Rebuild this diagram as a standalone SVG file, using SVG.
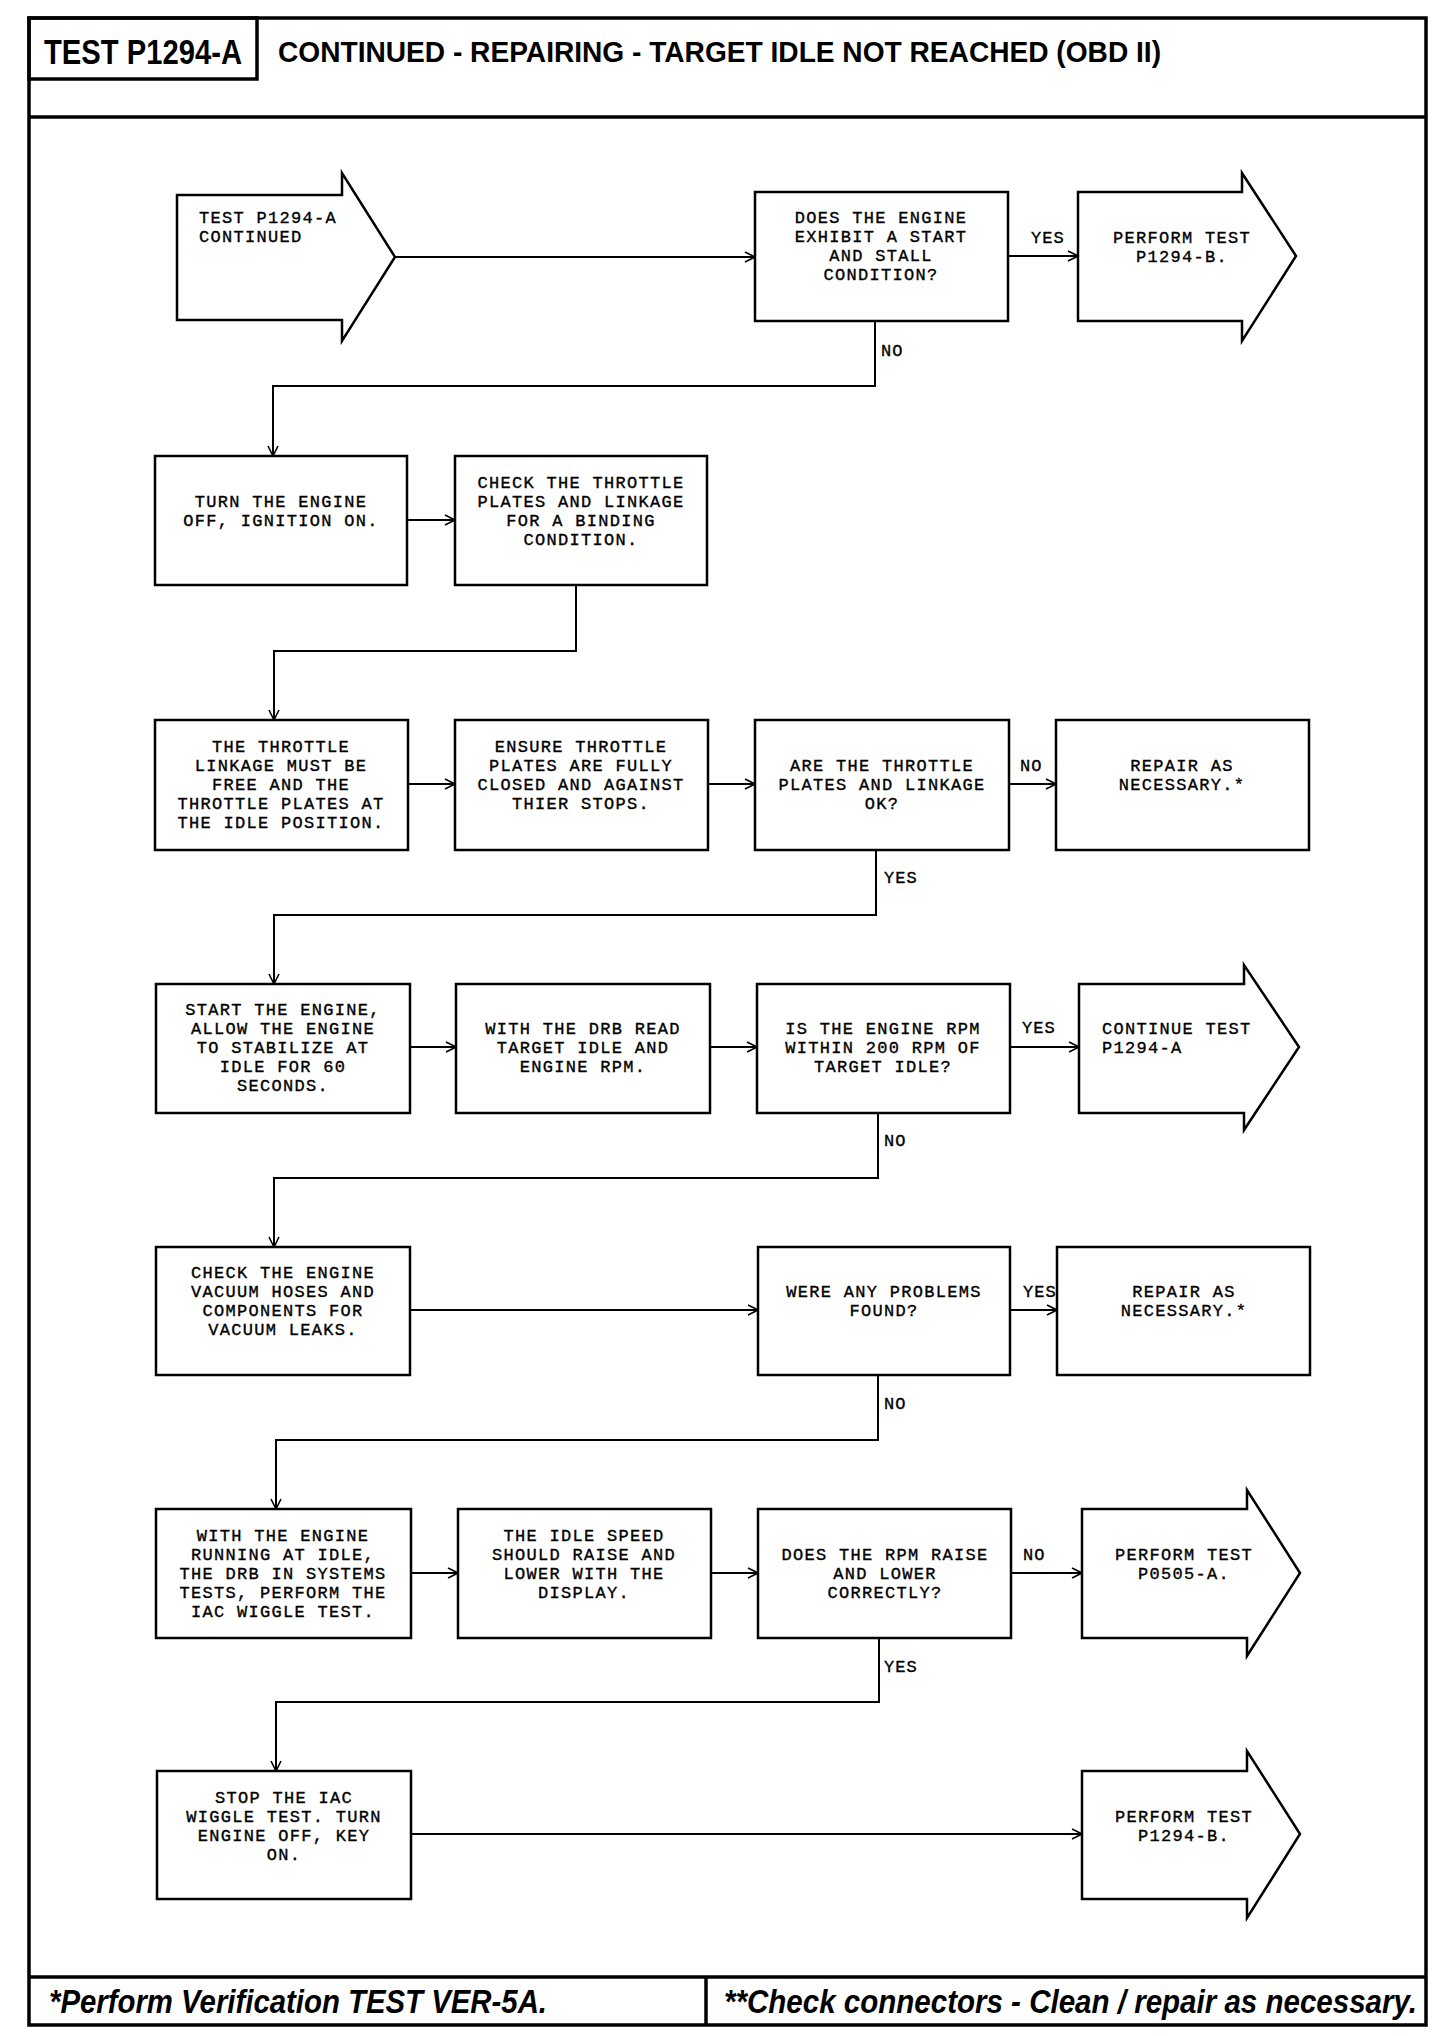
<svg xmlns="http://www.w3.org/2000/svg" width="1456" height="2036" viewBox="0 0 1456 2036">
<style>
.frame{fill:none;stroke:#000;stroke-width:3.5}
.box{fill:#fff;stroke:#000;stroke-width:2.5}
.t{font-family:"Liberation Mono","Courier New",monospace;font-size:17px;letter-spacing:1.3px;fill:#000;text-anchor:middle;stroke:#000;stroke-width:0.35}
.tl{font-family:"Liberation Mono","Courier New",monospace;font-size:17px;letter-spacing:1.3px;fill:#000;stroke:#000;stroke-width:0.35}
.lbl{font-family:"Liberation Mono","Courier New",monospace;font-size:17px;letter-spacing:1px;fill:#000;stroke:#000;stroke-width:0.35}
.c{fill:none;stroke:#000;stroke-width:2}
.h{font-family:"Liberation Sans",Arial,sans-serif;font-weight:bold;fill:#000}
.f{font-family:"Liberation Sans",Arial,sans-serif;font-weight:bold;font-style:italic;fill:#000}
</style>
<defs>
<marker id="ah" markerWidth="12" markerHeight="12" refX="11" refY="6" orient="auto" markerUnits="userSpaceOnUse">
<path d="M1,1 L11,6 L1,11" fill="none" stroke="#000" stroke-width="1.6"/>
</marker>
</defs>
<rect width="1456" height="2036" fill="#fff"/>
<g id="frame">
<rect class="frame" x="29" y="18" width="1397" height="2007"/>
<rect class="frame" x="29" y="18" width="228" height="61"/>
<line class="frame" x1="29" y1="117" x2="1426" y2="117"/>
<line class="frame" x1="29" y1="1977" x2="1426" y2="1977"/>
<line class="frame" x1="706" y1="1977" x2="706" y2="2025"/>
<text class="h" x="44" y="64" font-size="35" textLength="198" lengthAdjust="spacingAndGlyphs">TEST P1294-A</text>
<text class="h" x="278" y="62" font-size="29" textLength="883" lengthAdjust="spacingAndGlyphs">CONTINUED - REPAIRING - TARGET IDLE NOT REACHED (OBD II)</text>
<text class="f" x="49" y="2013" font-size="33" textLength="498" lengthAdjust="spacingAndGlyphs">*Perform Verification TEST VER-5A.</text>
<text class="f" x="724" y="2013" font-size="33" textLength="693" lengthAdjust="spacingAndGlyphs">**Check connectors - Clean / repair as necessary.</text>
</g>
<g id="connectors">
<line class="c" x1="395" y1="257" x2="755" y2="257" marker-end="url(#ah)"/>
<line class="c" x1="1008" y1="256" x2="1078" y2="256" marker-end="url(#ah)"/>
<polyline class="c" points="875,321 875,386 273,386 273,456" marker-end="url(#ah)"/>
<line class="c" x1="407" y1="520" x2="455" y2="520" marker-end="url(#ah)"/>
<polyline class="c" points="576,585 576,651 274,651 274,720" marker-end="url(#ah)"/>
<line class="c" x1="408" y1="784" x2="455" y2="784" marker-end="url(#ah)"/>
<line class="c" x1="708" y1="784" x2="755" y2="784" marker-end="url(#ah)"/>
<line class="c" x1="1009" y1="784" x2="1056" y2="784" marker-end="url(#ah)"/>
<polyline class="c" points="876,850 876,915 274,915 274,984" marker-end="url(#ah)"/>
<line class="c" x1="410" y1="1047" x2="456" y2="1047" marker-end="url(#ah)"/>
<line class="c" x1="710" y1="1047" x2="757" y2="1047" marker-end="url(#ah)"/>
<line class="c" x1="1010" y1="1047" x2="1079" y2="1047" marker-end="url(#ah)"/>
<polyline class="c" points="878,1113 878,1178 274,1178 274,1247" marker-end="url(#ah)"/>
<line class="c" x1="410" y1="1310" x2="758" y2="1310" marker-end="url(#ah)"/>
<line class="c" x1="1010" y1="1310" x2="1057" y2="1310" marker-end="url(#ah)"/>
<polyline class="c" points="878,1375 878,1440 276,1440 276,1509" marker-end="url(#ah)"/>
<line class="c" x1="411" y1="1573" x2="458" y2="1573" marker-end="url(#ah)"/>
<line class="c" x1="711" y1="1573" x2="758" y2="1573" marker-end="url(#ah)"/>
<line class="c" x1="1011" y1="1573" x2="1082" y2="1573" marker-end="url(#ah)"/>
<polyline class="c" points="879,1638 879,1702 276,1702 276,1771" marker-end="url(#ah)"/>
<line class="c" x1="411" y1="1834" x2="1082" y2="1834" marker-end="url(#ah)"/>
<text class="lbl" x="1031" y="243">YES</text>
<text class="lbl" x="881" y="356">NO</text>
<text class="lbl" x="1020" y="771">NO</text>
<text class="lbl" x="884" y="883">YES</text>
<text class="lbl" x="1022" y="1033">YES</text>
<text class="lbl" x="884" y="1146">NO</text>
<text class="lbl" x="1023" y="1297">YES</text>
<text class="lbl" x="884" y="1409">NO</text>
<text class="lbl" x="1023" y="1560">NO</text>
<text class="lbl" x="884" y="1672">YES</text>
</g>
<g id="start">
<polygon class="box" points="177,195 342,195 342,173 395,257 342,341 342,320 177,320"/>
<text class="tl" x="199" y="223">TEST P1294-A</text>
<text class="tl" x="199" y="242">CONTINUED</text>
</g>
<g id="q1">
<rect class="box" x="755" y="192" width="253" height="129"/>
<text class="t" x="881" y="223">DOES THE ENGINE</text>
<text class="t" x="881" y="242">EXHIBIT A START</text>
<text class="t" x="881" y="261">AND STALL</text>
<text class="t" x="881" y="280">CONDITION?</text>
</g>
<g id="p1294b-1">
<polygon class="box" points="1078,192 1242,192 1242,173 1296,256 1242,341 1242,321 1078,321"/>
<text class="t" x="1182" y="243">PERFORM TEST</text>
<text class="t" x="1182" y="262">P1294-B.</text>
</g>
<g id="s1">
<rect class="box" x="155" y="456" width="252" height="129"/>
<text class="t" x="281" y="507">TURN THE ENGINE</text>
<text class="t" x="281" y="526">OFF, IGNITION ON.</text>
</g>
<g id="s2">
<rect class="box" x="455" y="456" width="252" height="129"/>
<text class="t" x="581" y="488">CHECK THE THROTTLE</text>
<text class="t" x="581" y="507">PLATES AND LINKAGE</text>
<text class="t" x="581" y="526">FOR A BINDING</text>
<text class="t" x="581" y="545">CONDITION.</text>
</g>
<g id="s3">
<rect class="box" x="155" y="720" width="253" height="130"/>
<text class="t" x="281" y="752">THE THROTTLE</text>
<text class="t" x="281" y="771">LINKAGE MUST BE</text>
<text class="t" x="281" y="790">FREE AND THE</text>
<text class="t" x="281" y="809">THROTTLE PLATES AT</text>
<text class="t" x="281" y="828">THE IDLE POSITION.</text>
</g>
<g id="s4">
<rect class="box" x="455" y="720" width="253" height="130"/>
<text class="t" x="581" y="752">ENSURE THROTTLE</text>
<text class="t" x="581" y="771">PLATES ARE FULLY</text>
<text class="t" x="581" y="790">CLOSED AND AGAINST</text>
<text class="t" x="581" y="809">THIER STOPS.</text>
</g>
<g id="q2">
<rect class="box" x="755" y="720" width="254" height="130"/>
<text class="t" x="882" y="771">ARE THE THROTTLE</text>
<text class="t" x="882" y="790">PLATES AND LINKAGE</text>
<text class="t" x="882" y="809">OK?</text>
</g>
<g id="repair1">
<rect class="box" x="1056" y="720" width="253" height="130"/>
<text class="t" x="1182" y="771">REPAIR AS</text>
<text class="t" x="1182" y="790">NECESSARY.*</text>
</g>
<g id="s5">
<rect class="box" x="156" y="984" width="254" height="129"/>
<text class="t" x="283" y="1015">START THE ENGINE,</text>
<text class="t" x="283" y="1034">ALLOW THE ENGINE</text>
<text class="t" x="283" y="1053">TO STABILIZE AT</text>
<text class="t" x="283" y="1072">IDLE FOR 60</text>
<text class="t" x="283" y="1091">SECONDS.</text>
</g>
<g id="s6">
<rect class="box" x="456" y="984" width="254" height="129"/>
<text class="t" x="583" y="1034">WITH THE DRB READ</text>
<text class="t" x="583" y="1053">TARGET IDLE AND</text>
<text class="t" x="583" y="1072">ENGINE RPM.</text>
</g>
<g id="q3">
<rect class="box" x="757" y="984" width="253" height="129"/>
<text class="t" x="883" y="1034">IS THE ENGINE RPM</text>
<text class="t" x="883" y="1053">WITHIN 200 RPM OF</text>
<text class="t" x="883" y="1072">TARGET IDLE?</text>
</g>
<g id="cont">
<polygon class="box" points="1079,984 1244,984 1244,965 1299,1047 1244,1130 1244,1113 1079,1113"/>
<text class="tl" x="1102" y="1034">CONTINUE TEST</text>
<text class="tl" x="1102" y="1053">P1294-A</text>
</g>
<g id="s7">
<rect class="box" x="156" y="1247" width="254" height="128"/>
<text class="t" x="283" y="1278">CHECK THE ENGINE</text>
<text class="t" x="283" y="1297">VACUUM HOSES AND</text>
<text class="t" x="283" y="1316">COMPONENTS FOR</text>
<text class="t" x="283" y="1335">VACUUM LEAKS.</text>
</g>
<g id="q4">
<rect class="box" x="758" y="1247" width="252" height="128"/>
<text class="t" x="884" y="1297">WERE ANY PROBLEMS</text>
<text class="t" x="884" y="1316">FOUND?</text>
</g>
<g id="repair2">
<rect class="box" x="1057" y="1247" width="253" height="128"/>
<text class="t" x="1184" y="1297">REPAIR AS</text>
<text class="t" x="1184" y="1316">NECESSARY.*</text>
</g>
<g id="s8">
<rect class="box" x="156" y="1509" width="255" height="129"/>
<text class="t" x="283" y="1541">WITH THE ENGINE</text>
<text class="t" x="283" y="1560">RUNNING AT IDLE,</text>
<text class="t" x="283" y="1579">THE DRB IN SYSTEMS</text>
<text class="t" x="283" y="1598">TESTS, PERFORM THE</text>
<text class="t" x="283" y="1617">IAC WIGGLE TEST.</text>
</g>
<g id="s9">
<rect class="box" x="458" y="1509" width="253" height="129"/>
<text class="t" x="584" y="1541">THE IDLE SPEED</text>
<text class="t" x="584" y="1560">SHOULD RAISE AND</text>
<text class="t" x="584" y="1579">LOWER WITH THE</text>
<text class="t" x="584" y="1598">DISPLAY.</text>
</g>
<g id="q5">
<rect class="box" x="758" y="1509" width="253" height="129"/>
<text class="t" x="885" y="1560">DOES THE RPM RAISE</text>
<text class="t" x="885" y="1579">AND LOWER</text>
<text class="t" x="885" y="1598">CORRECTLY?</text>
</g>
<g id="p0505a">
<polygon class="box" points="1082,1509 1247,1509 1247,1490 1300,1573 1247,1656 1247,1638 1082,1638"/>
<text class="t" x="1184" y="1560">PERFORM TEST</text>
<text class="t" x="1184" y="1579">P0505-A.</text>
</g>
<g id="s10">
<rect class="box" x="157" y="1771" width="254" height="128"/>
<text class="t" x="284" y="1803">STOP THE IAC</text>
<text class="t" x="284" y="1822">WIGGLE TEST. TURN</text>
<text class="t" x="284" y="1841">ENGINE OFF, KEY</text>
<text class="t" x="284" y="1860">ON.</text>
</g>
<g id="p1294b-2">
<polygon class="box" points="1082,1771 1247,1771 1247,1751 1300,1834 1247,1918 1247,1899 1082,1899"/>
<text class="t" x="1184" y="1822">PERFORM TEST</text>
<text class="t" x="1184" y="1841">P1294-B.</text>
</g>
</svg>
